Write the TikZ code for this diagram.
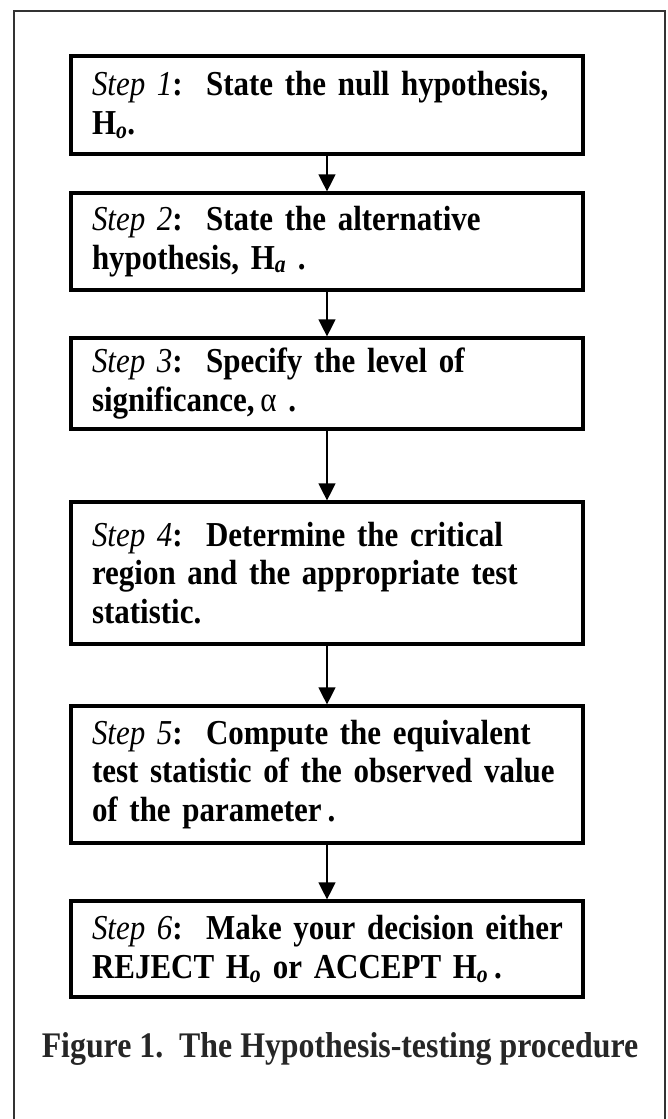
\documentclass[tikz,border=0pt]{standalone}
\usepackage{fontspec}
\setmainfont[FakeStretch=0.885]{Liberation Serif}
\usetikzlibrary{arrows.meta}
\newcommand\Hs[1]{H\textsubscript{\itshape #1}}
\newcommand\StepLbl[1]{\textit{\mdseries Step #1}:\ \ }
\begin{document}
\begin{tikzpicture}[x=1pt,y=-1pt,
  stepbox/.style={draw=black, line width=3.2pt, minimum width=512pt, text width=470pt,
    inner xsep=21pt, inner ysep=2pt, align=left,
    font=\fontsize{35}{38.5}\selectfont\bfseries},
  arr/.style={line width=1.3pt, -{Triangle[width=17pt,length=17pt]}},
  capt/.style={font=\fontsize{36}{39}\selectfont\bfseries, text=black!85, anchor=base}]
\useasboundingbox (0,0) rectangle (668,1119);
\draw[line width=2pt, draw=black!80] (14,11) rectangle (665,1140);
\node[stepbox, minimum height=98pt] (b1) at (327,105) {\mbox{\StepLbl{1}State the null hypothesis,}\\\mbox{\Hs{o}.}};
\node[stepbox, minimum height=97pt] (b2) at (327,241.5) {\mbox{\StepLbl{2}State the alternative}\\\mbox{hypothesis, \Hs{a}\ .}};
\node[stepbox, minimum height=91pt] (b3) at (327,383.5) {\mbox{\StepLbl{3}Specify the level of}\\\mbox{significance,\,{\mdseries α}\ .}};
\node[stepbox, minimum height=142pt] (b4) at (327,573) {\mbox{\StepLbl{4}Determine the critical}\\\mbox{region and the appropriate test}\\\mbox{statistic.}};
\node[stepbox, minimum height=137pt] (b5) at (327,774.5) {\mbox{\StepLbl{5}Compute the equivalent}\\\mbox{test statistic of the observed value}\\\mbox{of the parameter\,.}};
\node[stepbox, minimum height=96pt] (b6) at (327,949) {\mbox{\StepLbl{6}Make your decision either}\\\mbox{REJECT \Hs{o} or ACCEPT \Hs{o}\,.}};
\node[capt] (cap) at (340,1057) {Figure 1.\ \ The Hypothesis-testing procedure};
\draw[arr] (b1.south) -- (b2.north);
\draw[arr] (b2.south) -- (b3.north);
\draw[arr] (b3.south) -- (b4.north);
\draw[arr] (b4.south) -- (b5.north);
\draw[arr] (b5.south) -- (b6.north);
\end{tikzpicture}
\end{document}
